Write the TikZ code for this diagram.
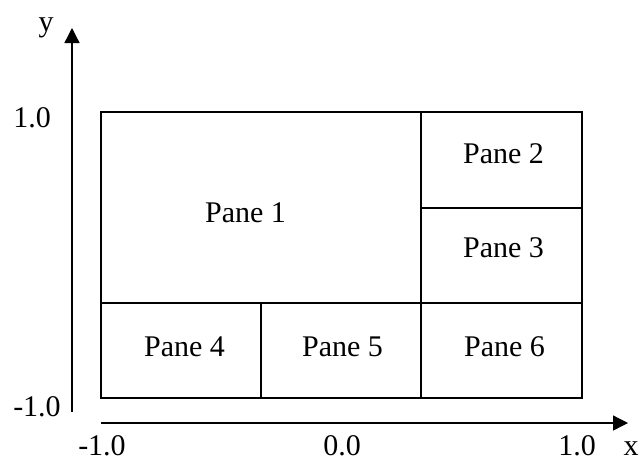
\documentclass[tikz,border=0pt]{standalone}
\usepackage{fontspec}
\setmainfont{Liberation Serif}
\usetikzlibrary{arrows.meta}

\begin{document}
\begin{tikzpicture}[x=1pt, y=-1pt, font=\fontsize{30}{36}\selectfont,
    every node/.style={inner sep=0pt, anchor=base},
    axis/.style={line width=1.3pt, -{Triangle[length=15pt, width=15pt]}},
    frame/.style={line width=1.6pt}]
    \useasboundingbox (0,0) rectangle (642,459);

    % axes
    \coordinate (yfoot) at (72,412);
    \coordinate (ytip) at (72,28);
    \coordinate (xfoot) at (101,423);
    \coordinate (xtip) at (628,423);
    \draw [axis] (yfoot) -- (ytip);
    \draw [axis] (xfoot) -- (xtip);

    \node (ylab) at (46,31) {y};
    \node (ytop) at (32,127) {1.0};
    \node (ybot) at (37,416) {-1.0};
    \node (xlab) at (631,455) {x};
    \node (xleft) at (102,455) {-1.0};
    \node (xmid) at (342,455) {0.0};
    \node (xright) at (577,455) {1.0};

    % panes
    \coordinate (nw) at (101,112);
    \coordinate (se) at (582,398);
    \draw [frame] (nw) rectangle (se);
    \draw [frame] (421,112) -- (421,398);
    \draw [frame] (101,303) -- (582,303);
    \draw [frame] (421,208) -- (582,208);
    \draw [frame] (261,303) -- (261,398);

    \node (pane1) at (245.5,222) {Pane 1};
    \node (pane2) at (503.5,163) {Pane 2};
    \node (pane3) at (503.5,257) {Pane 3};
    \node (pane4) at (184.5,356) {Pane 4};
    \node (pane5) at (342.5,356) {Pane 5};
    \node (pane6) at (504.5,356) {Pane 6};
\end{tikzpicture}
\end{document}
